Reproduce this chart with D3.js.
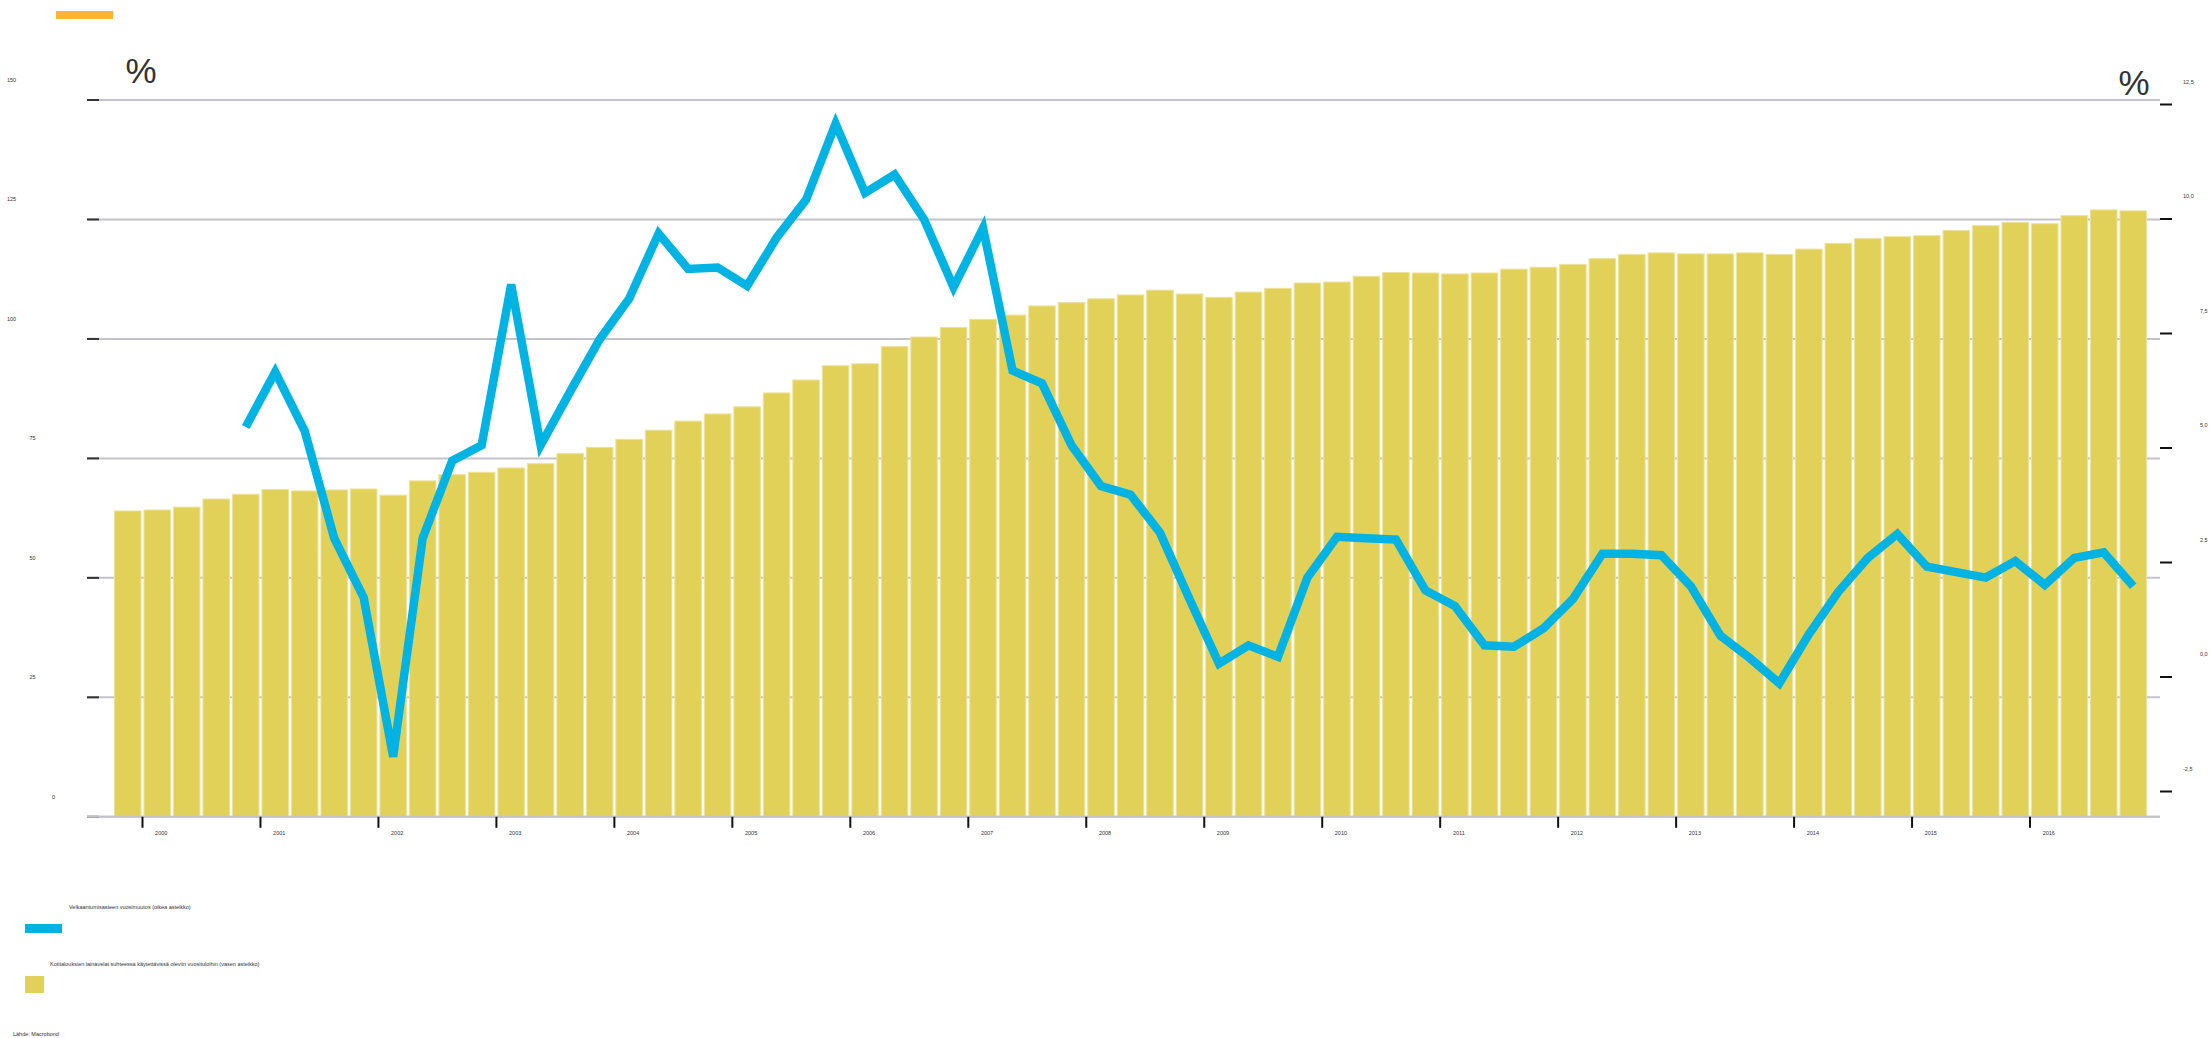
<!DOCTYPE html>
<html>
<head>
<meta charset="utf-8">
<script src="https://cdn.jsdelivr.net/npm/d3@7"></script>
<style>
body { margin: 0; background: #fff; }
svg text { font-family: "Liberation Sans", Arial, sans-serif; fill: #333; }
</style>
</head>
<body>
<svg id="chart"></svg>
<script>
let width = 2211
let height = 1038
let plot = {left: 87, right: 2160, top: 100, bottom: 817}

// categories: quarters 1999Q4 .. 2016Q4
let years = d3.range(2000, 2017)
let quarters = ["1999Q4"]
years.forEach(y => [1, 2, 3, 4].forEach(q => quarters.push(y + "Q" + q)))

// household loans relative to disposable income, % (left scale)
let debtRatio = [
    64.0, 64.2, 64.8, 66.5, 67.5, 68.5, 68.2, 68.4, 68.6, 67.3,
    70.3, 71.6, 72.1, 73.0, 73.9, 76.0, 77.3, 79.0, 80.9, 82.8,
    84.3, 85.8, 88.7, 91.4, 94.4, 94.8, 98.4, 100.4, 102.4, 104.1,
    105.0, 106.9, 107.6, 108.4, 109.2, 110.2, 109.4, 108.7, 109.8, 110.6,
    111.7, 111.9, 113.1, 113.9, 113.8, 113.6, 113.8, 114.6, 115.0, 115.6,
    116.8, 117.7, 118.0, 117.8, 117.8, 118.0, 117.7, 118.8, 120.0, 121.0,
    121.4, 121.6, 122.7, 123.7, 124.4, 124.1, 125.8, 127.0, 126.8
]

// annual change of the debt ratio, %-points (right scale), from 2000Q4
let changeStart = "2000Q4"
let debtChange = [
    5.45, 6.65, 5.36, 3.02, 1.72, -1.75, 3.02, 4.71, 5.05, 8.56,
    5.05, 6.22, 7.36, 8.25, 9.67, 8.90, 8.93, 8.53, 9.58, 10.41,
    12.07, 10.56, 10.96, 9.98, 8.50, 9.79, 6.68, 6.40, 5.05, 4.16,
    3.97, 3.14, 1.69, 0.28, 0.68, 0.43, 2.16, 3.05, 3.02, 2.99,
    1.88, 1.54, 0.68, 0.65, 1.05, 1.69, 2.68, 2.68, 2.65, 1.97,
    0.89, 0.40, -0.15, 0.92, 1.85, 2.59, 3.11, 2.40, 2.28, 2.16,
    2.52, 2.00, 2.59, 2.71, 1.97
]

let leftTicks = [0, 25, 50, 75, 100, 125, 150]
let rightTicks = [-2.5, 0, 2.5, 5, 7.5, 10, 12.5]

let legendLine = "Velkaantumisasteen vuosimuutos (oikea asteikko)"
let legendBar = "Kotitalouksien lainavelat suhteessa käytettävissä oleviin vuosituloihin (vasen asteikko)"
let source = "Lähde: Macrobond"

let fiLocale = d3.formatLocale({decimal: ",", thousands: " ", grouping: [3], currency: ["", " €"], minus: "-"})
let fmtRight = fiLocale.format(".1f")

let xScale = d3.scaleBand()
    .domain(quarters)
    .range([113, 2148])
    .paddingInner(0.1)
    .paddingOuter(0.05)

let yLeft = d3.scaleLinear().domain([0, 150]).range([816.8, 100])
let yRight = d3.scaleLinear().domain([-2.5, 12.5]).range([791, 104])

let svg = d3.select("#chart")
    .attr("width", width)
    .attr("height", height)

// orange marker at top
svg.append("rect")
    .attr("x", 56).attr("y", 11)
    .attr("width", 57).attr("height", 8)
    .attr("fill", "#fbb530")

// gridlines + left ticks
let grid = svg.append("g").attr("id", "grid")
grid.selectAll("line.grid")
    .data(leftTicks)
    .enter()
    .append("line")
    .attr("class", "grid")
    .attr("x1", plot.left)
    .attr("x2", plot.right)
    .attr("y1", d => yLeft(d))
    .attr("y2", d => yLeft(d))
    .attr("stroke", "#c4c3cc")
    .attr("stroke-width", 2)

grid.selectAll("line.ltick")
    .data(leftTicks)
    .enter()
    .append("line")
    .attr("class", "ltick")
    .attr("x1", plot.left)
    .attr("x2", plot.left + 12)
    .attr("y1", d => yLeft(d))
    .attr("y2", d => yLeft(d))
    .attr("stroke", "#333")
    .attr("stroke-width", 2)

grid.selectAll("text.llabel")
    .data(leftTicks)
    .enter()
    .append("text")
    .attr("class", "llabel")
    .text(d => d)
    .attr("x", d => 7 + (3 - String(d).length) * 22.5)
    .attr("y", d => yLeft(d) - 18)
    .attr("font-size", 5.5)

// bars
svg.append("g").attr("id", "bars")
    .selectAll("rect")
    .data(debtRatio)
    .enter()
    .append("rect")
    .attr("x", (d, i) => xScale(quarters[i]))
    .attr("width", xScale.bandwidth())
    .attr("y", d => yLeft(d))
    .attr("height", d => yLeft(0) - yLeft(d))
    .attr("fill", "#e2d158")
    .attr("stroke", "#ede29a")
    .attr("stroke-width", 1)

// baseline redrawn over bars
svg.append("line")
    .attr("x1", plot.left).attr("x2", plot.right)
    .attr("y1", yLeft(0)).attr("y2", yLeft(0))
    .attr("stroke", "#c4c3cc")
    .attr("stroke-width", 2)

// x axis year ticks at start of each year's Q1
let startIdx = quarters.indexOf(changeStart)
let half = xScale.step() * xScale.paddingInner() / 2
let xAxis = svg.append("g").attr("id", "x_axis")
xAxis.selectAll("line")
    .data(years)
    .enter()
    .append("line")
    .attr("x1", d => xScale(d + "Q1") - half)
    .attr("x2", d => xScale(d + "Q1") - half)
    .attr("y1", yLeft(0))
    .attr("y2", yLeft(0) + 11)
    .attr("stroke", "#111")
    .attr("stroke-width", 2)

xAxis.selectAll("text")
    .data(years)
    .enter()
    .append("text")
    .text(d => d)
    .attr("x", d => xScale(d + "Q1") + xScale.bandwidth() / 2 + 4)
    .attr("y", yLeft(0) + 18)
    .attr("text-anchor", "middle")
    .attr("font-size", 5.5)

// right axis
let rightAxis = svg.append("g")
    .attr("id", "right_axis")
    .attr("transform", "translate(" + plot.right + ",0)")
    .call(d3.axisRight(yRight).tickValues(rightTicks).tickSize(12).tickFormat(fmtRight))

rightAxis.select(".domain").remove()
rightAxis.selectAll(".tick line").attr("stroke", "#111").attr("stroke-width", 2)
rightAxis.selectAll(".tick text")
    .attr("font-size", 5.5)
    .attr("font-family", "Liberation Sans, Arial, sans-serif")
    .attr("fill", "#333")
    .attr("dy", null)
    .attr("y", -21)
    .attr("x", d => fmtRight(d).length > 3 ? 23 : 40)

// line
let line = d3.line()
    .x((d, i) => xScale(quarters[startIdx + i]) + xScale.bandwidth() / 2)
    .y(d => yRight(d))

svg.append("path")
    .datum(debtChange)
    .attr("d", line)
    .attr("fill", "none")
    .attr("stroke", "#00b3e3")
    .attr("stroke-width", 8.5)
    .attr("stroke-linejoin", "miter")

// percent signs
svg.append("text")
    .text("%")
    .attr("x", 141).attr("y", 83)
    .attr("text-anchor", "middle")
    .attr("font-size", 35)
    .attr("font-family", "Open Sans, sans-serif")
    .attr("fill", "#2a2a2a")

svg.append("text")
    .text("%")
    .attr("x", 2134).attr("y", 95)
    .attr("text-anchor", "middle")
    .attr("font-size", 35)
    .attr("font-family", "Open Sans, sans-serif")
    .attr("fill", "#2a2a2a")

// legend
let legend = svg.append("g").attr("id", "legend")
legend.append("text").text(legendLine)
    .attr("x", 69).attr("y", 909).attr("font-size", 5.5)
legend.append("rect")
    .attr("x", 25).attr("y", 924).attr("width", 37).attr("height", 9)
    .attr("fill", "#00b3e3")
legend.append("text").text(legendBar)
    .attr("x", 50).attr("y", 966).attr("font-size", 5.5)
legend.append("rect")
    .attr("x", 25).attr("y", 976).attr("width", 19).attr("height", 17)
    .attr("fill", "#e2d158")
legend.append("text").text(source)
    .attr("x", 13).attr("y", 1036).attr("font-size", 5.5)
</script>
</body>
</html>
